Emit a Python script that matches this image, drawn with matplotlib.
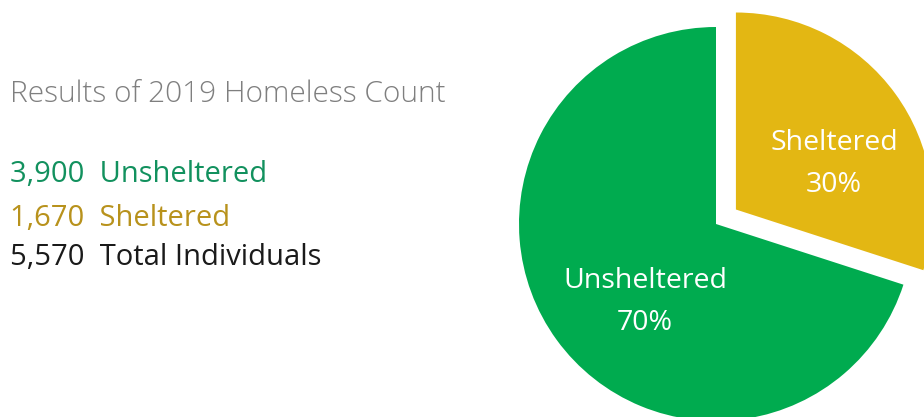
import matplotlib.pyplot as plt

# --- Data ---
categories = ["Sheltered", "Unsheltered"]
counts = [1670, 3900]
total = 5570
title = "Results of 2019 Homeless Count"

slice_colors = ["#E3B713", "#00AB4F"]
text_colors = ["#B8921C", "#12915E"]

W, H = 924, 417
fig = plt.figure(figsize=(W / 100, H / 100), dpi=100)
plt.rcParams['font.family'] = ['Open Sans', 'DejaVu Sans']

# axes in pixel units (y up)
ax = fig.add_axes([0, 0, 1, 1])

R = 197
center = (716, H - 224)
pcts = [round(100 * c / total) for c in counts]
wedges, texts = ax.pie(
    counts, colors=slice_colors, startangle=90, counterclock=False,
    explode=[0.125 * R, 0], radius=R, center=center,
    labels=[f"{c}\n{p}%" for c, p in zip(categories, pcts)],
    labeldistance=0.55, frame=True,
    textprops=dict(color="white", fontsize=20.5, ha="center", va="center",
                   linespacing=1.65),
    wedgeprops=dict(linewidth=0),
)
ax.set_xlim(0, W)
ax.set_ylim(0, H)
ax.set_aspect('equal')
ax.axis('off')

# nudge labels to match reference placement
texts[0].set_position((834, H - 164))
texts[1].set_position((645, H - 302))

# --- Left text block ---
fig.text(10 / W, 1 - 102 / H, title, fontsize=21.5, color="#7F7F7F",
         fontweight="light", ha="left", va="baseline")
lines = [
    (f"{counts[1]:,}  Unsheltered", text_colors[1], 182),
    (f"{counts[0]:,}  Sheltered", text_colors[0], 226),
    (f"{total:,}  Total Individuals", "#1A1A1A", 265),
]
for txt, col, yb in lines:
    fig.text(10 / W, 1 - yb / H, txt, fontsize=21, color=col,
             ha="left", va="baseline")

fig.savefig("out.png", dpi=100)
